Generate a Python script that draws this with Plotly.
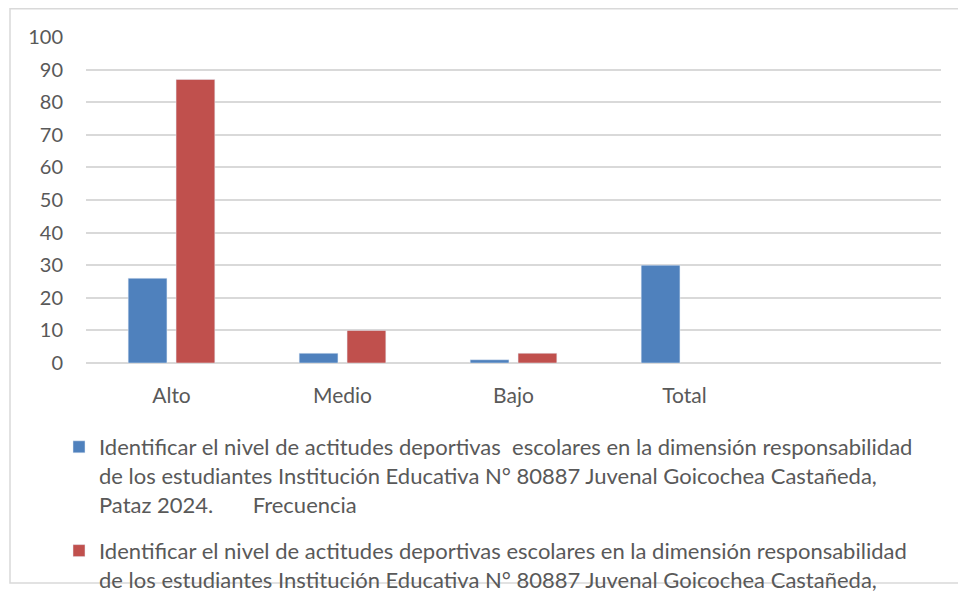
import plotly.graph_objects as go

categories = ["Alto", "Medio", "Bajo", "Total", " "]
frecuencia = [26, 3, 1, 30, None]
porcentaje = [87, 10, 3, None, None]
y_ticks = [0, 10, 20, 30, 40, 50, 60, 70, 80, 90, 100]

name1 = ("Identificar el nivel de actitudes deportivas  escolares en la dimensión responsabilidad<br>"
         "de los estudiantes Institución Educativa N° 80887 Juvenal Goicochea Castañeda,<br>"
         "Pataz 2024.       Frecuencia")
name2 = ("Identificar el nivel de actitudes deportivas escolares en la dimensión responsabilidad<br>"
         "de los estudiantes Institución Educativa N° 80887 Juvenal Goicochea Castañeda,<br>"
         "Pataz 2024.       Porcentaje")

W, H = 958, 592
L, R, T, B = 86, 941, 37, 363  # plot area in px
pw, ph = R - L, B - T

def px_x(x):
    return (x - L) / pw

def px_y(y):
    return (B - y) / ph

FONT = "Lato"
GREY = "#595959"

fig = go.Figure()
fig.add_trace(go.Bar(x=categories, y=frecuencia, name=name1, marker_color="#4F81BD",
                     legendgroup="a"))
fig.add_trace(go.Bar(x=categories, y=porcentaje, name=name2, marker_color="#C0504D",
                     legendgroup="b"))

fig.update_layout(
    width=W, height=H,
    margin=dict(l=L, r=W - R, t=T, b=H - B, autoexpand=False),
    paper_bgcolor="white", plot_bgcolor="white",
    barmode="group", bargap=0.44, bargroupgap=0.19,
    font=dict(family=FONT, size=20, color=GREY),
    legend=dict(
        x=px_x(59), xanchor="left", y=px_y(426), yanchor="top",
        font=dict(family=FONT, size=22, color=GREY),
        valign="top", traceorder="grouped", tracegroupgap=15,
        bgcolor="rgba(0,0,0,0)", maxheight=2000,
    ),
    showlegend=True,
)
fig.update_xaxes(showgrid=False, showline=False, ticks="", ticklabelstandoff=18,
                 tickfont=dict(family=FONT, size=21, color=GREY))
fig.update_yaxes(range=[0, 100], tickvals=y_ticks, showgrid=True, gridcolor="#D9D9D9",
                 gridwidth=1.5, zeroline=True, zerolinecolor="#D9D9D9", zerolinewidth=1.5,
                 showline=False, ticks="", ticklabelstandoff=22,
                 tickfont=dict(family=FONT, size=20, color=GREY))

fig.add_shape(type="rect", xref="paper", yref="paper",
              x0=px_x(10), x1=px_x(1100), y0=px_y(583), y1=px_y(8.8),
              line=dict(color="#D9D9D9", width=1.5), fillcolor="rgba(0,0,0,0)", layer="below")

fig.write_html(
    "out.html",
    config={"displayModeBar": False},
    post_script="document.body.style.margin='0';document.body.style.overflow='hidden';",
)
